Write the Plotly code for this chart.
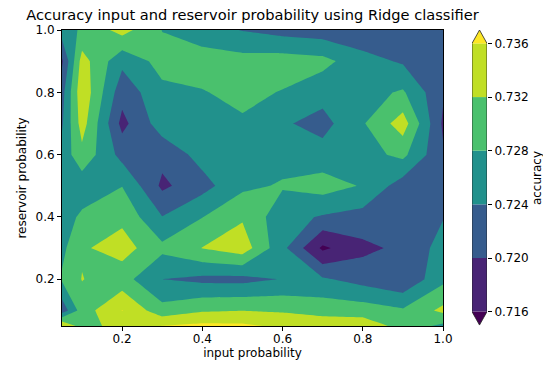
import plotly.graph_objects as go

# ---- data ----
input_prob = [0.05, 0.1, 0.2, 0.3, 0.4, 0.5, 0.6, 0.7, 0.8, 0.9, 1.0]
reservoir_prob = [0.05, 0.1, 0.2, 0.3, 0.4, 0.5, 0.6, 0.7, 0.8, 0.9, 1.0]

acc_r005 = [0.7363, 0.7300, 0.7340, 0.7361, 0.7370, 0.7368, 0.7352, 0.7345, 0.7345, 0.7305, 0.7270]
acc_r010 = [0.7215, 0.7300, 0.7361, 0.7294, 0.7315, 0.7319, 0.7315, 0.7305, 0.7300, 0.7285, 0.7330]
acc_r020 = [0.7285, 0.73215, 0.7296, 0.7240, 0.7230, 0.7228, 0.7242, 0.7245, 0.7225, 0.7205, 0.7270]
acc_r030 = [0.7270, 0.7315, 0.73376, 0.7290, 0.7321, 0.7343, 0.72504, 0.7152, 0.7190, 0.7209, 0.7255]
acc_r040 = [0.7260, 0.7288, 0.7310, 0.7241, 0.7279, 0.7315, 0.7255, 0.7236, 0.7225, 0.7225, 0.7238]
acc_r050 = [0.7255, 0.7255, 0.7279, 0.7192, 0.7225, 0.7271, 0.7284, 0.7298, 0.7277, 0.7220, 0.7225]
acc_r060 = [0.7255, 0.7308, 0.7226, 0.7212, 0.7255, 0.7265, 0.7265, 0.7256, 0.7265, 0.7290, 0.7205]
acc_r070 = [0.7235, 0.7338, 0.7188, 0.7261, 0.7265, 0.7275, 0.7245, 0.7226, 0.7276, 0.7340, 0.7194]
acc_r080 = [0.7225, 0.7350, 0.7215, 0.7270, 0.7278, 0.7290, 0.7278, 0.7255, 0.7265, 0.7285, 0.7205]
acc_r090 = [0.7194, 0.7337, 0.7250, 0.7295, 0.7297, 0.7295, 0.7299, 0.7292, 0.7255, 0.7235, 0.7220]
acc_r100 = [0.7260, 0.7286, 0.7335, 0.7279, 0.7260, 0.7238, 0.7225, 0.7218, 0.7210, 0.7215, 0.7215]

accuracy = [acc_r005, acc_r010, acc_r020, acc_r030, acc_r040, acc_r050,
            acc_r060, acc_r070, acc_r080, acc_r090, acc_r100]

levels = [0.716, 0.720, 0.724, 0.728, 0.732, 0.736]
level_labels = ["0.716", "0.720", "0.724", "0.728", "0.732", "0.736"]
axis_ticks = [0.2, 0.4, 0.6, 0.8, 1.0]
axis_tick_labels = ["0.2", "0.4", "0.6", "0.8", "1.0"]

# viridis samples as matplotlib contourf(extend='both') uses them
under_color = "#440154"
band_colors = ["#482475", "#365c8d", "#21918c", "#4ac16d", "#c0df25"]
over_color = "#fde725"

FONT = "DejaVu Sans"
W, H = 551, 370
OFF = 8  # the page body adds an 8px margin; compensate so positions match
plot_left, plot_right = 62 - OFF, 443 - OFF
plot_top, plot_bottom = 30 - OFF, 326 - OFF
cb_left, cb_right = 472 - OFF, 487 - OFF
L, R, T, B = plot_left, 2, plot_top, H - plot_bottom
plot_w = W - L - R

step = levels[1] - levels[0]
all_colors = [under_color] + band_colors + [over_color]
n = len(all_colors) - 1
colorscale = [[i / n, c] for i, c in enumerate(all_colors)]

fig = go.Figure()

fig.add_trace(go.Contour(
    x=input_prob, y=reservoir_prob, z=accuracy,
    autocontour=False,
    contours=dict(start=levels[0], end=levels[-1] + step * 0.01, size=step,
                  coloring="fill", showlines=False),
    colorscale=colorscale,
    line=dict(width=0, smoothing=0),
    showscale=False,
    hoverinfo="skip",
))

# ---- hand-built colorbar with extension triangles ----
ext = 0.05 * (levels[-1] - levels[0])
fig.add_trace(go.Bar(
    x=[0.5] * len(band_colors),
    y=[levels[i + 1] - levels[i] for i in range(len(band_colors))],
    base=levels[:-1],
    width=1,
    marker=dict(color=band_colors, line=dict(width=0)),
    xaxis="x2", yaxis="y2", showlegend=False, hoverinfo="skip",
))
fig.add_trace(go.Scatter(
    x=[0, 1, 0.5, 0], y=[levels[0], levels[0], levels[0] - ext, levels[0]],
    fill="toself", fillcolor=under_color, mode="lines", line=dict(width=0),
    xaxis="x2", yaxis="y2", showlegend=False, hoverinfo="skip",
))
fig.add_trace(go.Scatter(
    x=[0, 1, 0.5, 0], y=[levels[-1], levels[-1], levels[-1] + ext, levels[-1]],
    fill="toself", fillcolor=over_color, mode="lines", line=dict(width=0),
    xaxis="x2", yaxis="y2", showlegend=False, hoverinfo="skip",
))
fig.add_trace(go.Scatter(
    x=[0, 0.5, 1, 1, 0.5, 0, 0],
    y=[levels[0], levels[0] - ext, levels[0], levels[-1], levels[-1] + ext, levels[-1], levels[0]],
    mode="lines", line=dict(width=0.8, color="#222222"),
    xaxis="x2", yaxis="y2", showlegend=False, hoverinfo="skip",
))

axis_common = dict(
    showline=True, mirror=True, linecolor="black", linewidth=1,
    ticks="outside", ticklen=4, tickcolor="black", tickwidth=1,
    showgrid=False, zeroline=False,
    tickfont=dict(family=FONT, size=12, color="black"),
)

fig.update_layout(
    width=W, height=H,
    margin=dict(l=L, r=R, t=T, b=B, autoexpand=False),
    paper_bgcolor="white", plot_bgcolor="white",
    barmode="overlay",
    showlegend=False,
    title=dict(
        text="Accuracy input and reservoir probability using Ridge classifier",
        font=dict(family=FONT, size=14.6, color="black"),
        x=((plot_left + plot_right) / 2 - L) / plot_w, xref="paper", xanchor="center",
        y=1 - (15.2 - OFF) / H, yref="container", yanchor="middle",
    ),
    xaxis=dict(
        domain=[0, (plot_right - L) / plot_w],
        range=[input_prob[0], input_prob[-1]],
        tickvals=axis_ticks, ticktext=axis_tick_labels,
        ticklabelstandoff=-2,
        title=dict(text="input probability", font=dict(family=FONT, size=12, color="black"),
                   standoff=3),
        **axis_common,
    ),
    yaxis=dict(
        domain=[0, 1],
        range=[reservoir_prob[0], reservoir_prob[-1]],
        tickvals=axis_ticks, ticktext=axis_tick_labels,
        title=dict(text="reservoir probability", font=dict(family=FONT, size=12, color="black"),
                   standoff=6),
        **axis_common,
    ),
    xaxis2=dict(
        domain=[(cb_left - L) / plot_w, (cb_right - L) / plot_w],
        range=[0, 1], visible=False, fixedrange=True,
    ),
    yaxis2=dict(
        domain=[0, 1], anchor="x2", side="right",
        range=[levels[0] - ext - 0.00007, levels[-1] + ext],
        tickvals=levels, ticktext=level_labels,
        ticks="outside", ticklen=4, tickcolor="black", tickwidth=1,
        showline=False, showgrid=False, zeroline=False,
        tickfont=dict(family=FONT, size=12, color="black"),
        title=dict(text="accuracy", font=dict(family=FONT, size=12, color="black"),
                   standoff=4),
    ),
)

fig.write_html("out.html")
